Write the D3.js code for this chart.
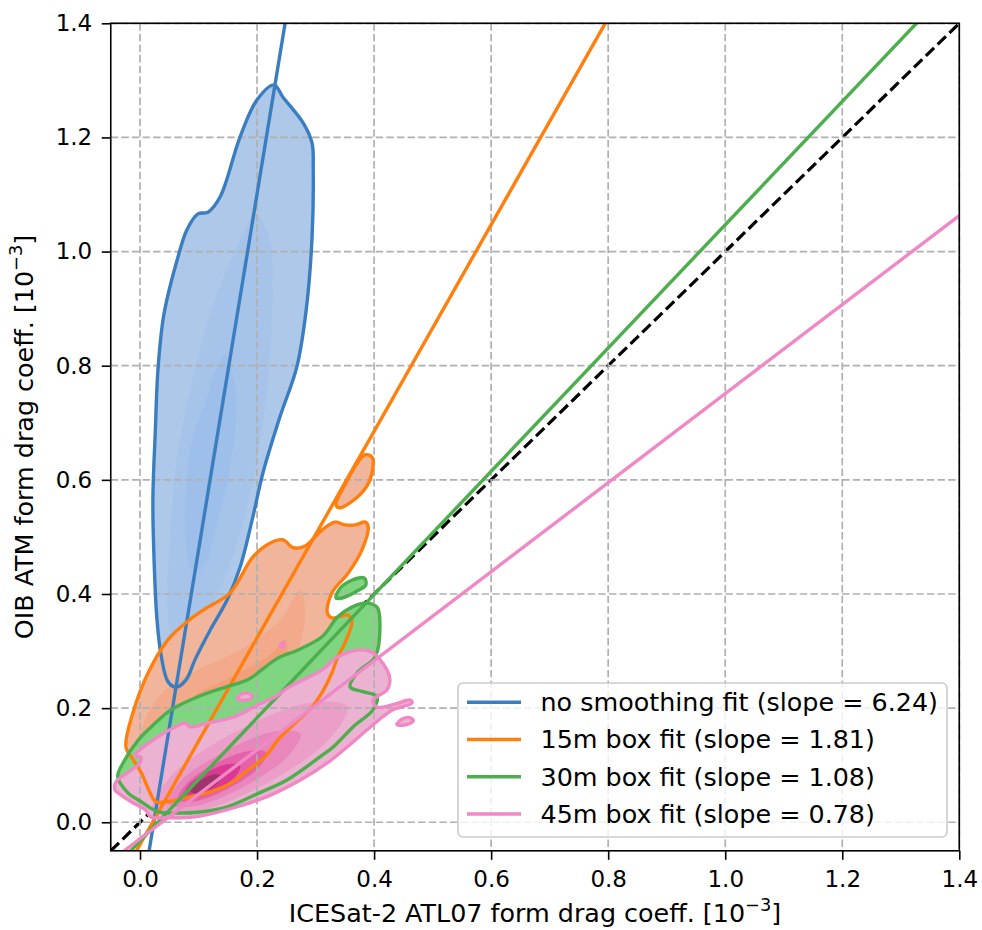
<!DOCTYPE html>
<html>
<head>
<meta charset="utf-8">
<script src="https://cdn.jsdelivr.net/npm/d3@7"></script>
<style>
  body { margin: 0; background: #fff; }
  svg text { font-family: "DejaVu Sans", sans-serif; fill: #000; }
</style>
</head>
<body>
<div id="chart"></div>
<script>
// ---- data (units of 10^-3) ----
var xTicks = [0.0, 0.2, 0.4, 0.6, 0.8, 1.0, 1.2, 1.4];
var yTicks = [0.0, 0.2, 0.4, 0.6, 0.8, 1.0, 1.2, 1.4];

var fitLabels = ["no smoothing fit (slope = 6.24)", "15m box fit (slope = 1.81)",
                 "30m box fit (slope = 1.08)", "45m box fit (slope = 0.78)"];
var fitSlopes = [6.24, 1.81, 1.08, 0.78];
var fitIntercepts = [-0.147, -0.039, -0.033, -0.029];

// outermost KDE contour of each run (ring list), then inner levels
var blueOuter = [[[0.229,1.292],[0.244,1.271],[0.279,1.225],[0.294,1.190],[0.296,1.143],[0.294,1.025],[0.284,0.898],[0.268,0.798],[0.239,0.710],[0.210,0.612],[0.193,0.536],[0.171,0.447],[0.149,0.390],[0.120,0.337],[0.094,0.285],[0.079,0.250],[0.062,0.237],[0.048,0.246],[0.036,0.293],[0.029,0.355],[0.024,0.460],[0.022,0.565],[0.026,0.682],[0.031,0.798],[0.041,0.891],[0.065,0.991],[0.080,1.038],[0.099,1.066],[0.116,1.069],[0.137,1.096],[0.171,1.201],[0.200,1.266]]];
var blueInner = [
  [[0.198,1.064],[0.222,1.020],[0.226,0.916],[0.219,0.775],[0.197,0.618],[0.168,0.495],[0.128,0.390],[0.085,0.320],[0.060,0.302],[0.048,0.355],[0.051,0.495],[0.065,0.653],[0.094,0.793],[0.128,0.916],[0.171,1.020]],
  [[0.145,0.819],[0.161,0.775],[0.164,0.705],[0.154,0.623],[0.133,0.530],[0.108,0.447],[0.089,0.442],[0.077,0.507],[0.080,0.600],[0.089,0.670],[0.113,0.740],[0.130,0.793]]
];

var orangeOuter = [
  [[0.085,0.355],[0.111,0.374],[0.154,0.402],[0.193,0.465],[0.222,0.489],[0.244,0.495],[0.262,0.481],[0.282,0.484],[0.311,0.512],[0.333,0.526],[0.350,0.521],[0.368,0.521],[0.385,0.526],[0.390,0.517],[0.379,0.477],[0.356,0.437],[0.328,0.402],[0.320,0.367],[0.328,0.358],[0.356,0.363],[0.362,0.351],[0.350,0.314],[0.338,0.290],[0.328,0.262],[0.311,0.227],[0.294,0.202],[0.265,0.174],[0.236,0.145],[0.214,0.115],[0.185,0.092],[0.156,0.069],[0.116,0.052],[0.077,0.043],[0.048,0.036],[0.027,0.036],[0.017,0.052],[0.002,0.087],[-0.012,0.110],[-0.024,0.132],[-0.012,0.192],[0.014,0.262],[0.048,0.320]],
  [[0.335,0.556],[0.350,0.591],[0.373,0.632],[0.385,0.644],[0.397,0.639],[0.393,0.600],[0.376,0.574],[0.359,0.560],[0.342,0.551]]
];
var orangeInner = [
  [[-0.009,0.100],[0.009,0.180],[0.043,0.232],[0.103,0.270],[0.171,0.302],[0.239,0.354],[0.274,0.407],[0.282,0.363],[0.265,0.284],[0.222,0.206],[0.162,0.144],[0.094,0.100],[0.034,0.078]],
  [[0.017,0.118],[0.043,0.180],[0.094,0.223],[0.162,0.258],[0.222,0.293],[0.248,0.320],[0.248,0.276],[0.205,0.214],[0.145,0.162],[0.085,0.123],[0.034,0.100]],
  [[0.060,0.144],[0.103,0.188],[0.162,0.223],[0.197,0.241],[0.179,0.197],[0.128,0.153],[0.077,0.127]]
];

var greenOuter = [
  [[-0.038,0.080],[-0.029,0.104],[-0.003,0.144],[0.019,0.167],[0.053,0.197],[0.099,0.220],[0.150,0.238],[0.185,0.250],[0.214,0.272],[0.236,0.288],[0.270,0.302],[0.311,0.325],[0.338,0.360],[0.362,0.377],[0.385,0.384],[0.405,0.377],[0.410,0.342],[0.402,0.290],[0.371,0.262],[0.359,0.237],[0.381,0.229],[0.405,0.220],[0.398,0.197],[0.364,0.167],[0.330,0.132],[0.308,0.115],[0.251,0.074],[0.205,0.052],[0.149,0.027],[0.103,0.018],[0.060,0.016],[0.031,0.018],[0.002,0.036],[-0.021,0.052]],
  [[0.335,0.393],[0.342,0.410],[0.362,0.424],[0.383,0.428],[0.386,0.416],[0.369,0.404],[0.345,0.393]]
];
var greenInner = [
  [[0.017,0.092],[0.103,0.144],[0.205,0.188],[0.308,0.249],[0.359,0.302],[0.342,0.232],[0.274,0.162],[0.188,0.109],[0.085,0.066],[0.026,0.057]]
];

var pinkOuter = [
  [[-0.043,0.057],[-0.041,0.071],[-0.021,0.087],[0.000,0.104],[0.002,0.113],[-0.009,0.118],[0.000,0.127],[0.031,0.150],[0.060,0.167],[0.077,0.174],[0.085,0.167],[0.116,0.174],[0.162,0.185],[0.202,0.206],[0.231,0.220],[0.253,0.236],[0.311,0.267],[0.338,0.290],[0.379,0.302],[0.398,0.297],[0.422,0.267],[0.427,0.249],[0.422,0.232],[0.398,0.214],[0.405,0.202],[0.432,0.206],[0.462,0.214],[0.465,0.209],[0.432,0.197],[0.415,0.185],[0.388,0.162],[0.354,0.132],[0.320,0.104],[0.274,0.074],[0.217,0.045],[0.149,0.022],[0.091,0.009],[0.046,0.008],[0.019,0.009],[0.009,0.022],[-0.015,0.036],[-0.038,0.052]],
  [[0.439,0.171],[0.448,0.181],[0.462,0.183],[0.467,0.178],[0.456,0.171]],
  [[0.166,0.216],[0.174,0.225],[0.188,0.225],[0.191,0.218],[0.179,0.214]],
  [[0.240,0.311],[0.243,0.315],[0.246,0.311],[0.243,0.307]]
];
var pinkInner = [
  [[0.354,0.203],[0.322,0.144],[0.212,0.066],[0.088,0.016],[0.022,0.022],[0.054,0.082],[0.164,0.159],[0.288,0.209]],
  [[0.274,0.155],[0.252,0.115],[0.177,0.062],[0.092,0.028],[0.048,0.032],[0.069,0.072],[0.145,0.124],[0.229,0.159]],
  [[0.216,0.122],[0.202,0.095],[0.151,0.059],[0.095,0.037],[0.065,0.040],[0.079,0.067],[0.129,0.103],[0.186,0.125]],
  [[0.171,0.099],[0.163,0.080],[0.131,0.057],[0.095,0.043],[0.075,0.046],[0.083,0.065],[0.115,0.088],[0.152,0.102]],
  [[0.138,0.081],[0.134,0.070],[0.118,0.058],[0.098,0.051],[0.087,0.053],[0.091,0.064],[0.108,0.076],[0.128,0.084]]
];

// ---- styles ----
var lineColors = ["#3a7ebf", "#ff7f0e", "#4cae4c", "#f088c6"];
var blueFills = ["#adc8e9", "#a6c4ea", "#9dbfe9"];
var orangeFills = ["#f1b59c", "#f2aa8b", "#f39f7a", "#f59367"];
var greenFills = ["#80d680", "#76ce76"];
var pinkFills = ["#ecb2d2", "#eb9fc8", "#e986bb", "#e561a9", "#db3894", "#9f346d"];

var width = 982, height = 930;
var margin = {left: 110.75, right: 959.3, top: 23.3, bottom: 850.8};

var x = d3.scaleLinear().domain([-0.05, 1.4]).range([margin.left, margin.right]);
var y = d3.scaleLinear().domain([-0.05, 1.4]).range([margin.bottom, margin.top]);

var svg = d3.select("#chart").append("svg")
    .attr("width", width)
    .attr("height", height);

svg.append("defs").append("clipPath")
    .attr("id", "clip")
    .append("rect")
    .attr("x", margin.left)
    .attr("y", margin.top)
    .attr("width", margin.right - margin.left)
    .attr("height", margin.bottom - margin.top);

var plot = svg.append("g").attr("clip-path", "url(#clip)");

var ring = d3.line()
    .x(function (d) { return x(d[0]); })
    .y(function (d) { return y(d[1]); })
    .curve(d3.curveCatmullRomClosed.alpha(0.5));

var straight = d3.line()
    .x(function (d) { return x(d[0]); })
    .y(function (d) { return y(d[1]); });

// 1:1 line sits under the filled contours
plot.append("path")
    .datum([[-0.05, -0.05], [1.4, 1.4]])
    .attr("d", straight)
    .attr("fill", "none")
    .attr("stroke", "#000")
    .attr("stroke-width", 3.2)
    .attr("stroke-dasharray", "11.5,5");

var groups = [
    {outer: blueOuter, inner: blueInner, fills: blueFills},
    {outer: orangeOuter, inner: orangeInner, fills: orangeFills},
    {outer: greenOuter, inner: greenInner, fills: greenFills},
    {outer: pinkOuter, inner: pinkInner, fills: pinkFills}
];

// filled levels
groups.forEach(function (g) {
    g.outer.forEach(function (r) {
        plot.append("path").datum(r).attr("d", ring).attr("fill", g.fills[0]);
    });
    g.inner.forEach(function (r, i) {
        plot.append("path").datum(r).attr("d", ring).attr("fill", g.fills[i + 1]);
    });
});

// grid above the fills
var grid = svg.append("g").attr("class", "grid");
grid.selectAll(".gx").data(xTicks).enter().append("line")
    .attr("x1", function (d) { return x(d); })
    .attr("x2", function (d) { return x(d); })
    .attr("y1", margin.top).attr("y2", margin.bottom);
grid.selectAll(".gy").data(yTicks).enter().append("line")
    .attr("y1", function (d) { return y(d); })
    .attr("y2", function (d) { return y(d); })
    .attr("x1", margin.left).attr("x2", margin.right);
grid.selectAll("line")
    .attr("stroke", "#b0b0b0")
    .attr("stroke-width", 1.7)
    .attr("stroke-dasharray", "7.4,3.2");

// contour outlines and fit lines
var lines = svg.append("g").attr("clip-path", "url(#clip)");
groups.forEach(function (g, i) {
    g.outer.forEach(function (r) {
        lines.append("path").datum(r).attr("d", ring)
            .attr("fill", "none")
            .attr("stroke", lineColors[i])
            .attr("stroke-width", 3.4);
    });
    var m = fitSlopes[i], b = fitIntercepts[i];
    lines.append("path")
        .datum([[-0.05, m * -0.05 + b], [1.4, m * 1.4 + b]])
        .attr("d", straight)
        .attr("fill", "none")
        .attr("stroke", lineColors[i])
        .attr("stroke-width", 3.4);
});

// axes
var fmt = d3.format(".1f");
var xAxis = svg.append("g")
    .attr("transform", "translate(0," + margin.bottom + ")")
    .call(d3.axisBottom(x).tickValues(xTicks).tickFormat(fmt).tickSize(9).tickPadding(11));
var yAxis = svg.append("g")
    .attr("transform", "translate(" + margin.left + ",0)")
    .call(d3.axisLeft(y).tickValues(yTicks).tickFormat(fmt).tickSize(9).tickPadding(9.5));
[xAxis, yAxis].forEach(function (a) {
    a.select(".domain").remove();
    a.selectAll(".tick line").attr("stroke", "#000").attr("stroke-width", 1.6);
    a.selectAll(".tick text").attr("font-size", "23px").attr("fill", "#000")
        .style("font-family", "'DejaVu Sans', sans-serif");
});

// spines
svg.append("rect")
    .attr("x", margin.left).attr("y", margin.top)
    .attr("width", margin.right - margin.left)
    .attr("height", margin.bottom - margin.top)
    .attr("fill", "none")
    .attr("stroke", "#000")
    .attr("stroke-width", 1.6);

// axis labels
var xl = svg.append("text")
    .attr("x", (margin.left + margin.right) / 2)
    .attr("y", 922)
    .attr("text-anchor", "middle")
    .attr("font-size", "25.4px");
xl.append("tspan").text("ICESat-2 ATL07 form drag coeff. [10");
xl.append("tspan").attr("dy", -11).attr("font-size", "17.8px").text("\u22123");
xl.append("tspan").attr("dy", 11).text("]");

var yl = svg.append("text")
    .attr("transform", "translate(33," + (margin.top + margin.bottom) / 2 + ") rotate(-90)")
    .attr("text-anchor", "middle")
    .attr("font-size", "25.4px");
yl.append("tspan").text("OIB ATM form drag coeff. [10");
yl.append("tspan").attr("dy", -11).attr("font-size", "17.8px").text("\u22123");
yl.append("tspan").attr("dy", 11).text("]");

// legend
var legend = svg.append("g");
legend.append("rect")
    .attr("x", 458).attr("y", 683)
    .attr("width", 489).attr("height", 154)
    .attr("rx", 5)
    .attr("fill", "#fff").attr("fill-opacity", 0.8)
    .attr("stroke", "#cccccc").attr("stroke-width", 1.6);
var items = legend.selectAll(".item").data(fitLabels).enter().append("g")
    .attr("transform", function (d, i) { return "translate(0," + (702.3 + i * 37.25) + ")"; });
items.append("line")
    .attr("x1", 467).attr("x2", 521)
    .attr("stroke", function (d, i) { return lineColors[i]; })
    .attr("stroke-width", 3.4);
items.append("text")
    .attr("x", 540.5)
    .attr("dy", "0.35em")
    .attr("font-size", "25.4px")
    .text(function (d) { return d; });
</script>
</body>
</html>
